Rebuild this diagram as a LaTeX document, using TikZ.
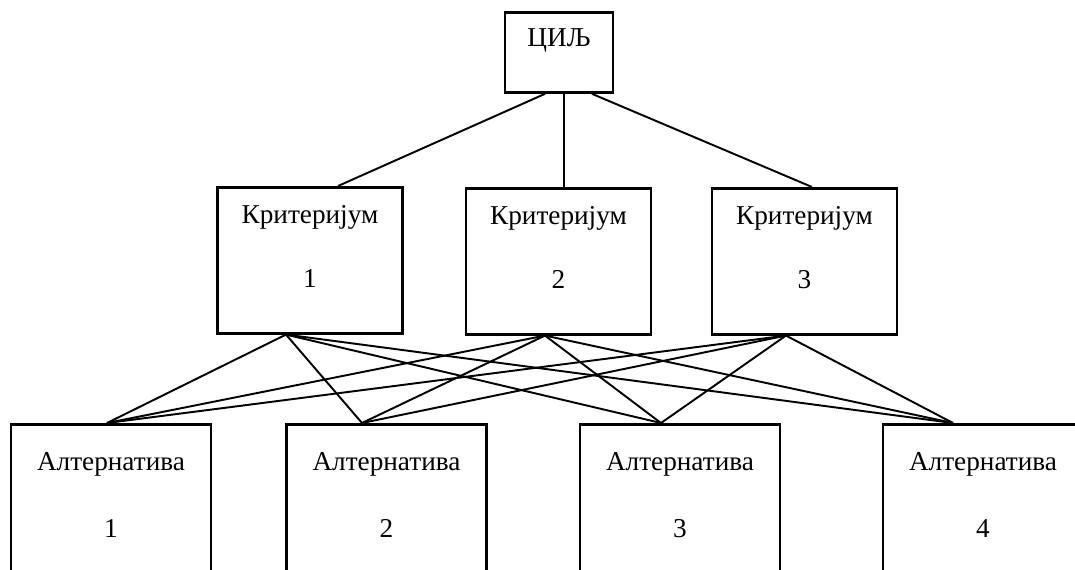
\documentclass[tikz,border=0pt]{standalone}
\usepackage{fontspec}
\setmainfont{Liberation Serif}
\usetikzlibrary{calc}

\begin{document}
\begin{tikzpicture}[x=0.02cm, y=-0.02cm,
        box/.style={draw, line width=1.6pt, align=center, anchor=north, inner xsep=0pt},
        goalbox/.style={box, minimum width=2.16cm, inner ysep=9.2pt, text depth=17pt, font=\fontsize{15.5pt}{18pt}\selectfont},
        critbox/.style={box, minimum width=3.7cm, inner ysep=10.2pt, text depth=16pt, font=\fontsize{15.5pt}{36.3pt}\selectfont},
        altbox/.style={box, minimum width=4cm, inner ysep=15.8pt, text depth=60pt, font=\fontsize{15.5pt}{38.5pt}\selectfont},
        link/.style={line width=1.1pt}]
        \useasboundingbox (0,0) rectangle (1075,569);
        \clip (0,0) rectangle (1075,569);

        \node[goalbox] (goal) at (559,11) {ЦИЉ};

        \node[critbox] (k1) at (310,186) {Критеријум\\1};
        \node[critbox] (k2) at (558.5,187) {Критеријум\\2};
        \node[critbox] (k3) at (804.5,187) {Критеријум\\3};

        \node[altbox] (a1) at (111,423) {Алтернатива\\1};
        \node[altbox] (a2) at (386.5,423) {Алтернатива\\2};
        \node[altbox] (a3) at (680,423) {Алтернатива\\3};
        \node[altbox] (a4) at (983,423) {Алтернатива\\4};

        \draw[link] ($(goal.south)+(-14,0)$) -- ($(k1.north)+(28,0)$);
        \draw[link] ($(goal.south)+(5,0)$) -- ($(k2.north)+(5.5,0)$);
        \draw[link] ($(goal.south)+(33,0)$) -- ($(k3.north)+(7.5,0)$);

        \foreach \k/\dk in {k1/-24, k2/-13.5, k3/-18.5}
            \foreach \a/\da in {a1/-4, a2/-24.5, a3/-19, a4/-30}
                \draw[link] ($(\k.south)+(\dk,0)$) -- ($(\a.north)+(\da,0)$);
    \end{tikzpicture}
\end{document}
